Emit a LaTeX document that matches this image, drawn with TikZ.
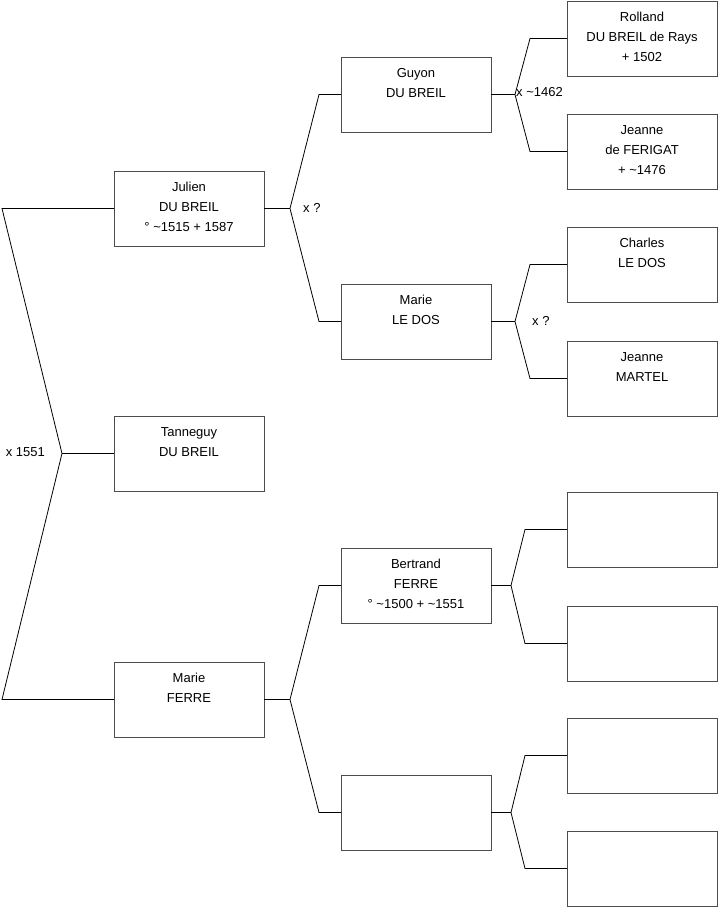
\documentclass[tikz,border=0pt]{standalone}
\usepackage{fontspec}
\setmainfont{Liberation Sans}
\usetikzlibrary{calc}
% person box text: lines hang from the top of the box
\newcommand{\who}[1]{\begin{minipage}[c][75pt][t]{150pt}\centering\rule{0pt}{20pt}#1\end{minipage}}

\begin{document}
\begin{tikzpicture}[x=1pt, y=-1pt,
  pbox/.style={draw=black!70, line width=1pt, inner sep=0pt, outer sep=0pt, anchor=north west,
    font=\fontsize{13}{20}\selectfont},
  link/.style={line width=0.8pt},
  wed/.style={font=\fontsize{13}{15}\selectfont, inner sep=0pt}]
\useasboundingbox (0,0) rectangle (719,908);
% generation 1
\node[pbox] (julien) at (114,171) {\who{Julien\\ DU BREIL\\ ° \textasciitilde1515 + 1587}};
\node[pbox] (tanneguy) at (114,416) {\who{Tanneguy\\ DU BREIL}};
\node[pbox] (marieF) at (114,662) {\who{Marie\\ FERRE}};
% generation 2
\node[pbox] (guyon) at (341,57) {\who{Guyon\\ DU BREIL}};
\node[pbox] (marieL) at (341,284) {\who{Marie\\ LE DOS}};
\node[pbox] (bertrand) at (341,548) {\who{Bertrand\\ FERRE\\ ° \textasciitilde1500 + \textasciitilde1551}};
\node[pbox] (motherF) at (341,775) {\who{}};
% generation 3
\node[pbox] (rolland) at (567,1) {\who{Rolland\\ DU BREIL de Rays\\ + 1502}};
\node[pbox] (jeanneF) at (567,114) {\who{Jeanne\\ de FERIGAT\\ + \textasciitilde1476}};
\node[pbox] (charles) at (567,227) {\who{Charles\\ LE DOS}};
\node[pbox] (jeanneM) at (567,341) {\who{Jeanne\\ MARTEL}};
\node[pbox] (gpA) at (567,492) {\who{}};
\node[pbox] (gpB) at (567,606) {\who{}};
\node[pbox] (gpC) at (567,718) {\who{}};
\node[pbox] (gpD) at (567,831) {\who{}};

% couple of generation 1
\coordinate (j0) at ($(julien.west)+(-112,0)$);
\coordinate (f0) at ($(marieF.west)+(-112,0)$);
\coordinate (m0) at ($(tanneguy.west)+(-52,0)$);
\draw[link] (julien.west) -- (j0) -- (m0) -- (f0) -- (marieF.west);
\draw[link] (m0) -- (tanneguy.west);
\node[wed, anchor=east] (w0) at ($(m0)+(-17,-1)$) {x 1551};

% parents of Julien
\coordinate (mj) at ($(julien.east)+(26,0)$);
\draw[link] (julien.east) -- (mj);
\draw[link] (guyon.west) -- ++(-22,0) -- (mj) -- ($(marieL.west)+(-22,0)$) -- (marieL.west);
\node[wed, anchor=west] (wj) at ($(mj)+(13,-1)$) {x ?};

% parents of Marie FERRE
\coordinate (mf) at ($(marieF.east)+(26,0)$);
\draw[link] (marieF.east) -- (mf);
\draw[link] (bertrand.west) -- ++(-22,0) -- (mf) -- ($(motherF.west)+(-22,0)$) -- (motherF.west);

% parents of Guyon
\coordinate (mg) at ($(guyon.east)+(24,0)$);
\draw[link] (guyon.east) -- (mg);
\draw[link] (rolland.west) -- ++(-37,0) -- (mg) -- ($(jeanneF.west)+(-37,0)$) -- (jeanneF.west);
\node[wed, anchor=west] (wg) at ($(mg)+(1,-2)$) {x \textasciitilde1462};

% parents of Marie LE DOS
\coordinate (ml) at ($(marieL.east)+(24,0)$);
\draw[link] (marieL.east) -- (ml);
\draw[link] (charles.west) -- ++(-37,0) -- (ml) -- ($(jeanneM.west)+(-37,0)$) -- (jeanneM.west);
\node[wed, anchor=west] (wl) at ($(ml)+(17,-1)$) {x ?};

% parents of Bertrand
\coordinate (mb) at ($(bertrand.east)+(20,0)$);
\draw[link] (bertrand.east) -- (mb);
\draw[link] (gpA.west) -- ++(-42,0) -- (mb) -- ($(gpB.west)+(-42,0)$) -- (gpB.west);

% parents of the mother of Marie FERRE
\coordinate (mx) at ($(motherF.east)+(20,0)$);
\draw[link] (motherF.east) -- (mx);
\draw[link] (gpC.west) -- ++(-42,0) -- (mx) -- ($(gpD.west)+(-42,0)$) -- (gpD.west);
\end{tikzpicture}
\end{document}
